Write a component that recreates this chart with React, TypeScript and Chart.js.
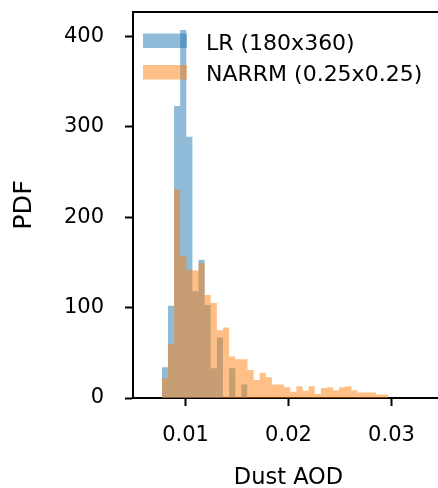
import React, { useEffect, useRef } from "react";
import { Chart, registerables } from "chart.js";

Chart.register(...registerables);

// Histogram definition (regular bins)
const BIN_START = 0.0077;
const BIN_WIDTH = 0.000594;

// PDF values per bin
const lrValues = [34, 102, 323, 407, 289, 118, 153, 103, 33, 67, 0, 33, 0, 15];
const narrmValues = [
  22, 60, 231, 157, 142, 141, 149, 114, 105, 75, 78, 46, 43, 43, 31, 20, 28, 23,
  15, 15, 12, 7, 13, 8, 13, 4.5, 11, 12, 8.5, 12, 13, 8.5, 6, 6, 6, 4, 4,
];

const seriesLabels = ["LR (180x360)", "NARRM (0.25x0.25)"];
const seriesColors = ["rgba(31,119,180,0.5)", "rgba(255,127,14,0.5)"];

const xTicks = [0.01, 0.02, 0.03];
const yTicks = [0, 100, 200, 300, 400];
const X_MIN = 0.0049;
const X_MAX = 0.0351;
const Y_MIN = 0;
const Y_MAX = 427;

const xTitle = "Dust AOD";
const yTitle = "PDF";

const FONT = "'DejaVu Sans', sans-serif";
const INK = "#000";

// Histogram outline: each bin's left edge carries its value; the last right
// edge closes the final bin (stepped "before" interpolation).
const toSteps = (vals: number[]) => {
  const pts = vals.map((v, i) => ({ x: BIN_START + i * BIN_WIDTH, y: v }));
  pts.push({ x: BIN_START + vals.length * BIN_WIDTH, y: vals[vals.length - 1] });
  return pts;
};

const topSpine = {
  id: "topSpine",
  afterDraw(chart: any) {
    const { ctx, chartArea } = chart;
    ctx.save();
    ctx.strokeStyle = INK;
    ctx.lineWidth = 2;
    ctx.beginPath();
    ctx.moveTo(chartArea.left - 1, chartArea.top);
    ctx.lineTo(chartArea.right + 1, chartArea.top);
    ctx.stroke();
    ctx.restore();
  },
};

const mplLegend = {
  id: "mplLegend",
  afterDatasetsDraw(chart: any) {
    const { ctx, chartArea } = chart;
    const ds = chart.data.datasets;
    ctx.save();
    const x0 = chartArea.left + 10;
    const y0 = chartArea.top + 21.5;
    const rowH = 31.5;
    const boxW = 44;
    const boxH = 14.5;
    ctx.font = `22px ${FONT}`;
    ctx.textAlign = "left";
    ctx.textBaseline = "alphabetic";
    ds.forEach((d: any, i: number) => {
      const y = y0 + i * rowH;
      ctx.fillStyle = d.backgroundColor;
      ctx.fillRect(x0, y, boxW, boxH);
      ctx.fillStyle = INK;
      ctx.fillText(d.label, x0 + boxW + 19, y + boxH / 2 + 9);
    });
    ctx.restore();
  },
};

export default function App() {
  const canvasRef = useRef<HTMLCanvasElement | null>(null);

  useEffect(() => {
    document.body.style.margin = "0";
    const canvas = canvasRef.current;
    if (!canvas) return;
    Chart.defaults.font.family = FONT;
    Chart.defaults.color = INK;

    const histDataset = (label: string, vals: number[], color: string, order: number) =>
      ({
        label,
        data: toSteps(vals),
        backgroundColor: color,
        borderColor: "rgba(0,0,0,0)",
        borderWidth: 0,
        pointRadius: 0,
        pointHoverRadius: 0,
        stepped: "before",
        fill: "origin",
        tension: 0,
        order,
      } as any);

    const chart = new Chart(canvas, {
      type: "line",
      data: {
        datasets: [
          histDataset(seriesLabels[0], lrValues, seriesColors[0], 1),
          histDataset(seriesLabels[1], narrmValues, seriesColors[1], 0),
        ],
      },
      options: {
        responsive: false,
        animation: false,
        devicePixelRatio: 1,
        layout: { padding: { top: 12, right: 2, left: 0, bottom: 0 } },
        plugins: {
          legend: { display: false },
          tooltip: { enabled: false },
          filler: { propagate: false },
        },
        scales: {
          x: {
            type: "linear",
            min: X_MIN,
            max: X_MAX,
            offset: false,
            afterBuildTicks: (scale: any) => {
              scale.ticks = xTicks.map((v) => ({ value: v }));
            },
            afterFit: (scale: any) => {
              scale.height = 90;
              scale.paddingLeft = 0;
              scale.paddingRight = 0;
            },
            grid: {
              display: true,
              drawOnChartArea: false,
              drawTicks: true,
              tickLength: 8,
              tickWidth: 2,
              tickColor: INK,
              offset: false,
            },
            border: { display: true, color: INK, width: 2 },
            ticks: {
              font: { size: 21, family: FONT },
              color: INK,
              padding: 17,
              maxRotation: 0,
              autoSkip: false,
              callback: (v: any) => Number(v).toFixed(2),
            },
            title: {
              display: true,
              text: xTitle,
              color: INK,
              font: { size: 22.5, family: FONT, lineHeight: 0.86 },
              padding: 0,
            },
          },
          y: {
            type: "linear",
            min: Y_MIN,
            max: Y_MAX,
            afterBuildTicks: (scale: any) => {
              scale.ticks = yTicks.map((v) => ({ value: v }));
            },
            afterFit: (scale: any) => {
              scale.width = 133;
              scale.paddingTop = 0;
              scale.paddingBottom = 0;
            },
            grid: {
              display: true,
              drawOnChartArea: false,
              drawTicks: true,
              tickLength: 8,
              tickWidth: 2,
              tickColor: INK,
            },
            border: { display: true, color: INK, width: 2 },
            ticks: {
              font: { size: 21, family: FONT },
              color: INK,
              padding: 21,
              autoSkip: false,
              callback: (v: any) => String(v),
            },
            title: {
              display: true,
              text: yTitle,
              color: INK,
              font: { size: 25.5, family: FONT, lineHeight: 1 },
              padding: { top: 12, bottom: 0 },
            },
          },
        },
      } as any,
      plugins: [topSpine, mplLegend],
    });

    return () => chart.destroy();
  }, []);

  return (
    <div
      style={{
        position: "absolute",
        left: 0,
        top: 0,
        width: 438,
        height: 488,
        overflow: "hidden",
        background: "#fff",
      }}
    >
      <canvas
        ref={canvasRef}
        width={446}
        height={488}
        style={{ width: 446, height: 488, display: "block" }}
      />
    </div>
  );
}
